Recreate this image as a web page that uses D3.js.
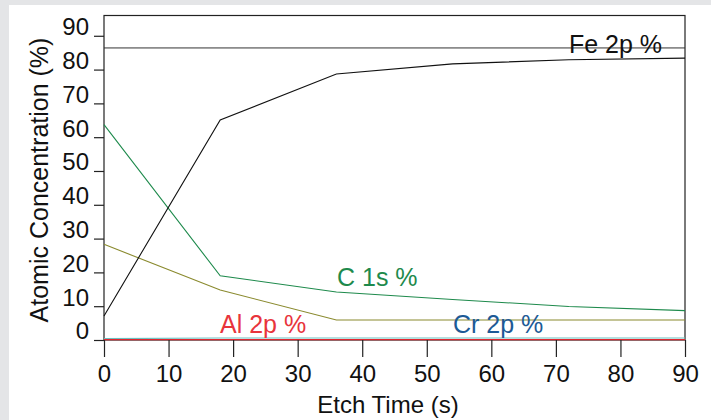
<!DOCTYPE html>
<head>
  <meta charset="utf-8" />
  <script src="https://d3js.org/d3.v7.min.js"></script>
  <style>
    body {
      margin: 0;
      background: #e4e5e7;
    }
    text {
      font-family: "Liberation Sans", Arial, sans-serif;
    }
  </style>
</head>

<body>
  <script>
    var width = 711,
      height = 420;

    // data
    var etchTime = [0, 18, 36, 54, 72, 90];
    var fe2p = [7.1, 65.1, 78.7, 81.7, 82.9, 83.4];
    var c1s = [63.7, 19.0, 14.2, 12.0, 9.9, 8.7];
    var o1s = [28.3, 14.8, 5.9, 5.9, 5.9, 5.9];
    var cr2p = [0.4, 0.6, 0.6, 0.6, 0.6, 0.6];
    var al2p = [0.1, 0.1, 0.1, 0.1, 0.1, 0.1];
    var refLine = 86.4;
    var xTicks = [0, 10, 20, 30, 40, 50, 60, 70, 80, 90];
    var yTicks = [0, 10, 20, 30, 40, 50, 60, 70, 80, 90];

    var series = [
      { name: "O 1s %", values: o1s, color: "#8a8a2e", label: null },
      { name: "Cr 2p %", values: cr2p, color: "#6bbfc0", label: { x: 453, y: 333, color: "#1d5a96" } },
      { name: "Al 2p %", values: al2p, color: "#e3262f", label: { x: 220, y: 333, color: "#e8343c" } },
      { name: "C 1s %", values: c1s, color: "#1e8a4c", label: { x: 337, y: 286, color: "#1e8a4c" } },
      { name: "Fe 2p %", values: fe2p, color: "#111", label: { x: 569, y: 53, color: "#111" } }
    ];

    var svg = d3
      .select("body")
      .append("svg")
      .attr("width", width)
      .attr("height", height)
      .style("display", "block");

    svg.append("rect")
      .attr("x", 9).attr("y", 5)
      .attr("width", width - 9).attr("height", height - 5)
      .attr("fill", "#fff");

    var x = d3.scaleLinear().domain([0, 90]).range([104, 685]);
    var y = d3.scaleLinear().domain([0, 96]).range([340, 15.5]);

    var g = svg.append("g");

    // frame
    g.append("rect")
      .attr("x", x(0)).attr("y", y(96))
      .attr("width", x(90) - x(0)).attr("height", y(0) - y(96))
      .attr("fill", "none").attr("stroke", "#222").attr("stroke-width", 1.2);

    // reference line
    g.append("line")
      .attr("x1", x(0)).attr("x2", x(90))
      .attr("y1", y(refLine)).attr("y2", y(refLine))
      .attr("stroke", "#333").attr("stroke-width", 1);

    var line = d3.line()
      .x(function (d, i) { return x(etchTime[i]); })
      .y(function (d) { return y(d); });

    series.forEach(function (s) {
      g.append("path")
        .attr("d", line(s.values))
        .attr("fill", "none")
        .attr("stroke", s.color)
        .attr("stroke-width", 1.1);
    });

    series.forEach(function (s) {
      if (!s.label) return;
      g.append("text")
        .attr("x", s.label.x).attr("y", s.label.y)
        .attr("fill", s.label.color)
        .attr("font-size", 25)
        .text(s.name);
    });

    // x axis
    var xAxis = svg.append("g").attr("transform", "translate(0," + y(0) + ")");
    xAxis.call(d3.axisBottom(x).tickValues(d3.range(0, 91, 2)).tickSize(10).tickFormat(""))
      .call(function (a) { a.select(".domain").remove(); });
    xAxis.call(d3.axisBottom(x).tickValues(xTicks).tickSize(17).tickPadding(8))
      .call(function (a) { a.select(".domain").remove(); });
    xAxis.selectAll("line").attr("stroke", "#222").attr("stroke-width", 1.2);
    xAxis.selectAll("text").attr("font-size", 24).attr("fill", "#111")
      .attr("font-family", "Liberation Sans, Arial, sans-serif");

    // y axis
    var yAxis = svg.append("g").attr("transform", "translate(" + x(0) + ",0)");
    yAxis.call(d3.axisLeft(y).tickValues(d3.range(0, 96, 2)).tickSize(5).tickFormat(""))
      .call(function (a) { a.select(".domain").remove(); });
    yAxis.call(d3.axisLeft(y).tickValues(yTicks).tickSize(10).tickPadding(5))
      .call(function (a) { a.select(".domain").remove(); });
    yAxis.selectAll("line").attr("stroke", "#222").attr("stroke-width", 1.2);
    yAxis.selectAll("text").attr("font-size", 24).attr("fill", "#111")
      .attr("dy", "-0.05em")
      .attr("font-family", "Liberation Sans, Arial, sans-serif");

    // axis titles
    svg.append("text")
      .attr("x", 388).attr("y", 413)
      .attr("text-anchor", "middle")
      .attr("font-size", 24).attr("fill", "#111")
      .text("Etch Time (s)");

    svg.append("text")
      .attr("transform", "translate(48,180) rotate(-90)")
      .attr("text-anchor", "middle")
      .attr("font-size", 25).attr("fill", "#111")
      .text("Atomic Concentration (%)");
  </script>
</body>
